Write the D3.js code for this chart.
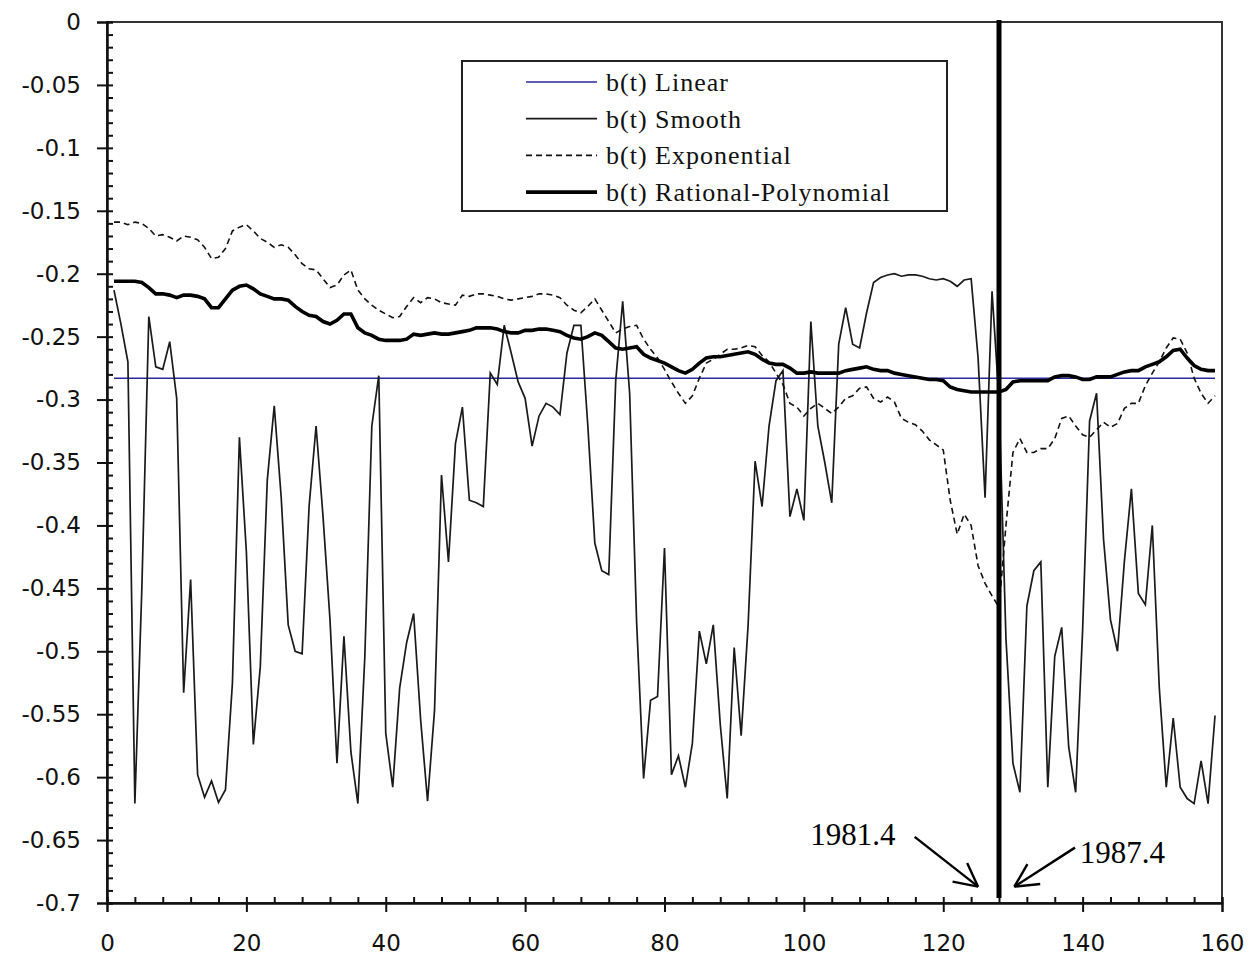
<!DOCTYPE html>
<html>
<head>
<meta charset="utf-8">
<script src="https://cdn.jsdelivr.net/npm/d3@7"></script>
<style>
  html, body { margin: 0; padding: 0; background: #fff; }
  svg { display: block; }
</style>
</head>
<body>
<div id="chart"></div>
<script>
// ---- data ----
const xTicks = [0, 20, 40, 60, 80, 100, 120, 140, 160];
const yTicks = [0, -0.05, -0.1, -0.15, -0.2, -0.25, -0.3, -0.35, -0.4, -0.45, -0.5, -0.55, -0.6, -0.65, -0.7];

const seriesNames = ["b(t) Linear", "b(t) Smooth", "b(t) Exponential", "b(t) Rational-Polynomial"];

// periods 1..159
const periods = d3.range(1, 160);

// linear fit is a flat level over the whole sample
const linearEnds = [1, 159];
const linearLevel = [-0.283, -0.283];

const smooth = [
  -0.213, -0.240, -0.270, -0.621, -0.450, -0.234, -0.274, -0.276, -0.254, -0.299,
  -0.533, -0.443, -0.598, -0.616, -0.603, -0.620, -0.610, -0.525, -0.330, -0.421,
  -0.574, -0.512, -0.364, -0.305, -0.378, -0.479, -0.500, -0.502, -0.385, -0.321,
  -0.393, -0.475, -0.589, -0.488, -0.580, -0.621, -0.504, -0.321, -0.281, -0.565,
  -0.608, -0.529, -0.493, -0.470, -0.554, -0.619, -0.547, -0.360, -0.429, -0.335,
  -0.306, -0.380, -0.382, -0.385, -0.279, -0.288, -0.241, -0.263, -0.286, -0.299,
  -0.337, -0.313, -0.303, -0.306, -0.312, -0.263, -0.241, -0.241, -0.321, -0.414,
  -0.436, -0.439, -0.285, -0.222, -0.295, -0.477, -0.601, -0.539, -0.536, -0.418,
  -0.598, -0.583, -0.608, -0.573, -0.484, -0.510, -0.479, -0.558, -0.617, -0.497,
  -0.567, -0.479, -0.349, -0.385, -0.321, -0.285, -0.277, -0.393, -0.371, -0.396,
  -0.238, -0.321, -0.350, -0.382, -0.256, -0.227, -0.256, -0.259, -0.231, -0.207,
  -0.203, -0.201, -0.200, -0.202, -0.201, -0.201, -0.202, -0.204, -0.205, -0.204,
  -0.206, -0.210, -0.205, -0.204, -0.267, -0.378, -0.214, -0.300, -0.490, -0.589,
  -0.612, -0.464, -0.436, -0.429, -0.608, -0.504, -0.481, -0.576, -0.612, -0.483,
  -0.317, -0.295, -0.411, -0.475, -0.500, -0.428, -0.371, -0.454, -0.463, -0.400,
  -0.529, -0.608, -0.553, -0.608, -0.617, -0.621, -0.587, -0.621, -0.551
];

const exponential = [
  -0.159, -0.159, -0.161, -0.159, -0.160, -0.164, -0.170, -0.169, -0.171, -0.174,
  -0.170, -0.171, -0.173, -0.179, -0.188, -0.187, -0.180, -0.166, -0.163, -0.161,
  -0.166, -0.172, -0.175, -0.179, -0.177, -0.179, -0.185, -0.192, -0.196, -0.197,
  -0.204, -0.211, -0.209, -0.201, -0.197, -0.213, -0.220, -0.225, -0.229, -0.232,
  -0.235, -0.234, -0.226, -0.219, -0.223, -0.219, -0.220, -0.223, -0.224, -0.225,
  -0.217, -0.218, -0.216, -0.216, -0.217, -0.218, -0.220, -0.221, -0.220, -0.219,
  -0.218, -0.216, -0.216, -0.217, -0.219, -0.225, -0.229, -0.231, -0.226, -0.220,
  -0.229, -0.238, -0.247, -0.244, -0.242, -0.241, -0.252, -0.260, -0.267, -0.276,
  -0.286, -0.295, -0.303, -0.297, -0.283, -0.271, -0.268, -0.264, -0.260, -0.260,
  -0.259, -0.257, -0.258, -0.265, -0.270, -0.279, -0.288, -0.303, -0.306, -0.313,
  -0.307, -0.303, -0.307, -0.311, -0.306, -0.299, -0.297, -0.291, -0.290, -0.299,
  -0.302, -0.298, -0.302, -0.315, -0.318, -0.320, -0.325, -0.332, -0.336, -0.340,
  -0.380, -0.407, -0.391, -0.400, -0.432, -0.446, -0.456, -0.465, -0.400, -0.342,
  -0.331, -0.342, -0.342, -0.339, -0.339, -0.331, -0.315, -0.313, -0.321, -0.328,
  -0.330, -0.324, -0.318, -0.322, -0.319, -0.307, -0.303, -0.303, -0.289, -0.279,
  -0.270, -0.259, -0.251, -0.252, -0.263, -0.283, -0.295, -0.303, -0.297
];

const rational = [
  -0.206, -0.206, -0.206, -0.206, -0.207, -0.211, -0.216, -0.216, -0.217, -0.219,
  -0.217, -0.217, -0.218, -0.220, -0.227, -0.227, -0.220, -0.213, -0.210, -0.209,
  -0.212, -0.216, -0.218, -0.220, -0.220, -0.221, -0.226, -0.230, -0.233, -0.234,
  -0.238, -0.240, -0.237, -0.232, -0.232, -0.243, -0.247, -0.249, -0.252, -0.253,
  -0.253, -0.253, -0.252, -0.248, -0.249, -0.248, -0.247, -0.248, -0.248, -0.247,
  -0.246, -0.245, -0.243, -0.243, -0.243, -0.244, -0.246, -0.247, -0.247, -0.245,
  -0.245, -0.244, -0.244, -0.245, -0.246, -0.249, -0.251, -0.252, -0.250, -0.247,
  -0.249, -0.254, -0.259, -0.260, -0.259, -0.258, -0.264, -0.267, -0.269, -0.271,
  -0.274, -0.277, -0.279, -0.276, -0.271, -0.267, -0.266, -0.266, -0.265, -0.264,
  -0.263, -0.262, -0.264, -0.268, -0.271, -0.272, -0.272, -0.275, -0.279, -0.279,
  -0.278, -0.279, -0.279, -0.279, -0.279, -0.277, -0.276, -0.275, -0.274, -0.276,
  -0.277, -0.277, -0.279, -0.280, -0.281, -0.282, -0.283, -0.284, -0.284, -0.285,
  -0.290, -0.292, -0.293, -0.294, -0.294, -0.294, -0.294, -0.294, -0.292, -0.286,
  -0.285, -0.285, -0.285, -0.285, -0.285, -0.282, -0.281, -0.281, -0.282, -0.284,
  -0.284, -0.282, -0.282, -0.282, -0.280, -0.278, -0.277, -0.277, -0.274, -0.272,
  -0.270, -0.266, -0.261, -0.260, -0.267, -0.273, -0.276, -0.277, -0.277
];

// structural break marker and its notes
const breakPeriod = 128;
const notes = [
  { text: "1981.4", x: 100.9, y: -0.654, tailX: 115.9, tailY: -0.6475, tipX: 125.0, tipY: -0.687 },
  { text: "1987.4", x: 139.6, y: -0.668, tailX: 138.9, tailY: -0.656, tipX: 130.2, tipY: -0.687 }
];

// ---- layout ----
const W = 1249, H = 957;
const margin = { top: 22, right: 27, bottom: 54, left: 107 };

const svg = d3.select("#chart").append("svg")
  .attr("width", W)
  .attr("height", H);

const x = d3.scaleLinear().domain([0, 160]).range([margin.left, W - margin.right]);
const y = d3.scaleLinear().domain([0, -0.7]).range([margin.top, H - margin.bottom]);

const tickFont = "'DejaVu Sans', Verdana, sans-serif";
const serif = "'Liberation Serif', 'Times New Roman', serif";

// frame (top and right)
svg.append("rect")
  .attr("x", x(0)).attr("y", y(0))
  .attr("width", x(160) - x(0)).attr("height", y(-0.7) - y(0))
  .attr("fill", "none").attr("stroke", "#333").attr("stroke-width", 2);

// y axis: outer major ticks + labels
const yAxisG = svg.append("g")
  .attr("transform", `translate(${x(0)},0)`)
  .call(d3.axisLeft(y).tickValues(yTicks).tickSize(10).tickPadding(16)
    .tickFormat(d => d === 0 ? "0" : String(+d.toFixed(2))));
// y axis: inner minor ticks
svg.append("g")
  .attr("transform", `translate(${x(0)},0)`)
  .call(d3.axisRight(y).tickValues(d3.range(0, -0.7001, -0.01)).tickSize(6).tickFormat(""));

// x axis
const xAxisG = svg.append("g")
  .attr("transform", `translate(0,${y(-0.7)})`)
  .call(d3.axisBottom(x).tickValues(xTicks).tickSize(9).tickPadding(23));
svg.append("g")
  .attr("transform", `translate(0,${y(-0.7)})`)
  .call(d3.axisTop(x).tickValues(d3.range(0, 160.01, 4)).tickSize(6).tickFormat(""));

svg.selectAll(".domain").attr("stroke", "#111").attr("stroke-width", 2);
svg.selectAll(".tick line").attr("stroke", "#111").attr("stroke-width", 2);
svg.selectAll(".tick text")
  .attr("fill", "#111")
  .style("font-family", tickFont)
  .style("font-size", "23px");

// ---- series ----
const line = d3.line().x(d => x(d[0])).y(d => y(d[1]));

svg.append("path")
  .datum(linearEnds.map((t, i) => [t, linearLevel[i]]))
  .attr("d", line)
  .attr("fill", "none").attr("stroke", "#2a2aa0").attr("stroke-width", 1.6);

svg.append("path")
  .datum(periods.map((t, i) => [t, smooth[i]]))
  .attr("d", line)
  .attr("fill", "none").attr("stroke", "#1a1a1a").attr("stroke-width", 1.7)
  .attr("stroke-linejoin", "miter");

svg.append("path")
  .datum(periods.map((t, i) => [t, exponential[i]]))
  .attr("d", line)
  .attr("fill", "none").attr("stroke", "#111").attr("stroke-width", 1.6)
  .attr("stroke-dasharray", "6,4");

svg.append("path")
  .datum(periods.map((t, i) => [t, rational[i]]))
  .attr("d", line)
  .attr("fill", "none").attr("stroke", "#000").attr("stroke-width", 3.6);

// break marker
svg.append("line")
  .attr("x1", x(breakPeriod)).attr("x2", x(breakPeriod))
  .attr("y1", y(0.0016)).attr("y2", y(-0.696))
  .attr("stroke", "#000").attr("stroke-width", 5);

// notes with arrows
notes.forEach(n => {
  svg.append("text")
    .attr("x", x(n.x)).attr("y", y(n.y))
    .style("font-family", serif).style("font-size", "31px")
    .attr("fill", "#000")
    .text(n.text);

  const x1 = x(n.tailX), y1 = y(n.tailY), x2 = x(n.tipX), y2 = y(n.tipY);
  const ang = Math.atan2(y1 - y2, x1 - x2);
  const len = 26, spread = 27 * Math.PI / 180;
  const g = svg.append("g").attr("stroke", "#000").attr("stroke-width", 2.4).attr("fill", "none");
  g.append("line").attr("x1", x1).attr("y1", y1).attr("x2", x2).attr("y2", y2);
  [-spread, spread].forEach(s => {
    g.append("line")
      .attr("x1", x2).attr("y1", y2)
      .attr("x2", x2 + len * Math.cos(ang + s))
      .attr("y2", y2 + len * Math.sin(ang + s));
  });
});

// ---- legend ----
const legend = svg.append("g");
legend.append("rect")
  .attr("x", 462).attr("y", 61).attr("width", 485).attr("height", 150)
  .attr("fill", "#fff").attr("stroke", "#222").attr("stroke-width", 2);

const legendStyles = [
  { stroke: "#2a2aa0", width: 1.6, dash: null },
  { stroke: "#1a1a1a", width: 1.7, dash: null },
  { stroke: "#111", width: 1.6, dash: "6,4" },
  { stroke: "#000", width: 3.6, dash: null }
];
seriesNames.forEach((name, i) => {
  const cy = 82 + i * 36.7;
  const st = legendStyles[i];
  legend.append("line")
    .attr("x1", 526).attr("x2", 597).attr("y1", cy).attr("y2", cy)
    .attr("stroke", st.stroke).attr("stroke-width", st.width)
    .attr("stroke-dasharray", st.dash);
  legend.append("text")
    .attr("x", 606).attr("y", cy + 9)
    .style("font-family", serif).style("font-size", "26px")
    .style("letter-spacing", "1px")
    .attr("fill", "#111")
    .text(name);
});
</script>
</body>
</html>
